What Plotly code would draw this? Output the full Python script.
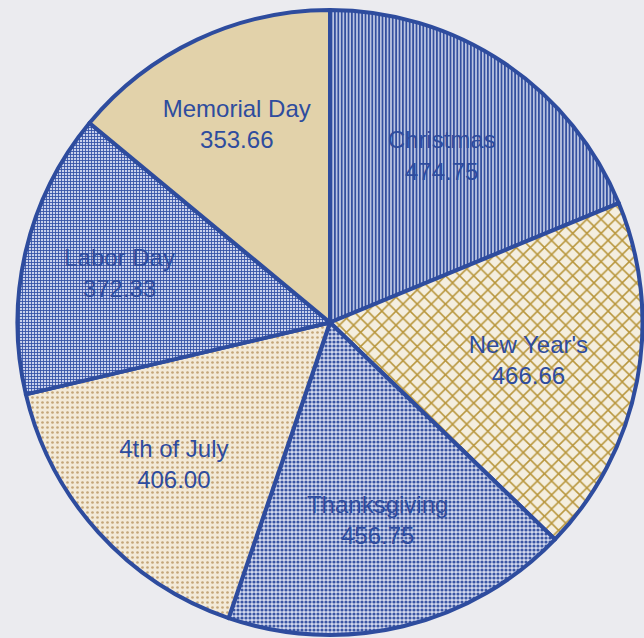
import plotly.graph_objects as go

# Holiday totals, clockwise from 12 o'clock
holidays = ["Christmas", "New Year's", "Thanksgiving", "4th of July", "Labor Day", "Memorial Day"]
amounts = [474.75, 466.66, 456.75, 406.00, 372.33, 353.66]

# Per-slice fill styling
fill_shapes = ["|", "x", ".", ".", "+", ""]
fill_fg = ["#34509f", "#b8963c", "#3a55a3", "#c4a678", "#3552a6", "#e2d2aa"]
fill_bg = ["#c9d1ea", "#f4eedf", "#d3d9ee", "#f3ead8", "#c8d0ec", "#e2d2aa"]
fill_size = [3.4, 10, 4, 5, 3, 8]
fill_solidity = [0.55, 0.28, 0.5, 0.22, 0.5, 0.3]

INK = "#2e4c9e"

fig = go.Figure(
    go.Pie(
        labels=holidays,
        values=amounts,
        sort=False,
        direction="clockwise",
        rotation=0,
        texttemplate="%{label}<br>%{value:.2f}",
        textposition="inside",
        insidetextorientation="horizontal",
        textfont=dict(family="Liberation Sans, Arial, sans-serif", size=24, color=INK),
        hoverinfo="label+value",
        marker=dict(
            colors=fill_bg,
            line=dict(color=INK, width=4),
            pattern=dict(
                shape=fill_shapes,
                fgcolor=fill_fg,
                bgcolor=fill_bg,
                size=fill_size,
                solidity=fill_solidity,
            ),
        ),
        domain=dict(x=[16 / 644, 644 / 644], y=[3 / 638, 628 / 638]),
        showlegend=False,
    )
)

fig.update_layout(
    width=644,
    height=638,
    margin=dict(l=0, r=0, t=0, b=0),
    paper_bgcolor="#ebebef",
    plot_bgcolor="#ebebef",
)

fig.write_html("out.html")
